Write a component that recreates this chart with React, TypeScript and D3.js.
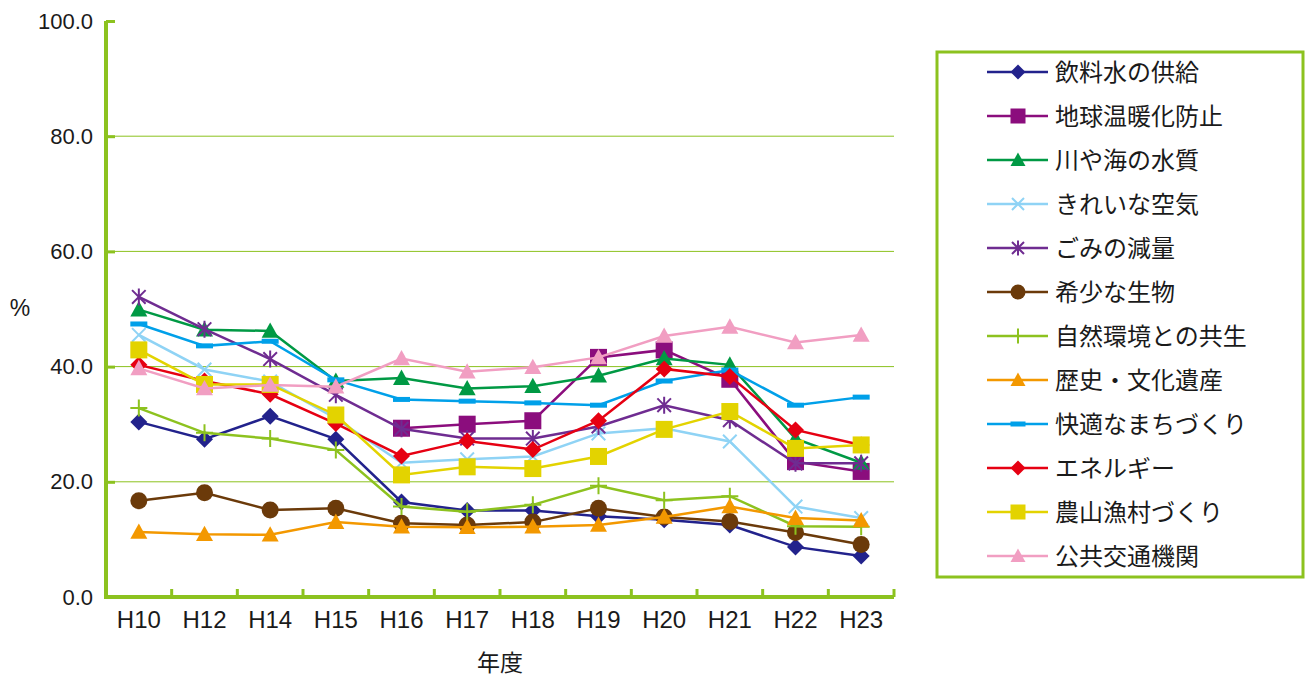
import React, { useEffect, useRef } from 'react';
import * as d3 from 'd3';

const years = ['H10', 'H12', 'H14', 'H15', 'H16', 'H17', 'H18', 'H19', 'H20', 'H21', 'H22', 'H23'];
const yTicks = [0, 20, 40, 60, 80, 100];

const seriesNames = ['飲料水の供給', '地球温暖化防止', '川や海の水質', 'きれいな空気', 'ごみの減量', '希少な生物',
  '自然環境との共生', '歴史・文化遺産', '快適なまちづくり', 'エネルギー', '農山漁村づくり', '公共交通機関'];

const drinkingWater = [30.4, 27.4, 31.4, 27.4, 16.5, 15.0, 15.0, 14.0, 13.4, 12.5, 8.7, 7.1];
const globalWarming = [null, null, null, null, 29.3, 30.0, 30.6, 41.6, 42.9, 37.8, 23.5, 21.8];
const waterQuality = [49.9, 46.4, 46.2, 37.5, 38.0, 36.2, 36.6, 38.4, 41.4, 40.3, 27.5, 23.3];
const cleanAir = [45.5, 39.5, 37.4, 31.0, 23.3, 23.9, 24.4, 28.4, 29.3, 27.0, 15.7, 13.7];
const wasteReduction = [52.1, 46.5, 41.3, 35.1, 29.2, 27.5, 27.5, 29.6, 33.3, 30.7, 23.2, 23.2];
const rareSpecies = [16.7, 18.1, 15.1, 15.4, 12.8, 12.5, 13.0, 15.4, 13.9, 13.1, 11.2, 9.1];
const natureCoexist = [32.8, 28.5, 27.5, 25.5, 15.7, 14.8, 16.0, 19.3, 16.8, 17.5, 12.3, 12.2];
const heritage = [11.3, 10.9, 10.8, 13.0, 12.2, 12.1, 12.2, 12.5, 13.9, 15.7, 13.7, 13.3];
const comfortableTown = [47.4, 43.6, 44.4, 37.7, 34.3, 34.0, 33.7, 33.3, 37.5, 39.4, 33.3, 34.7];
const energy = [40.3, 37.5, 35.2, 30.1, 24.5, 27.1, 25.6, 30.6, 39.6, 38.3, 29.0, 26.4];
const ruralVillage = [42.9, 36.9, 36.9, 31.6, 21.2, 22.6, 22.3, 24.4, 29.1, 32.2, 25.8, 26.4];
const publicTransport = [39.7, 36.2, 36.8, 36.5, 41.4, 39.1, 39.9, 41.6, 45.3, 46.9, 44.2, 45.5];

const allValues = [drinkingWater, globalWarming, waterQuality, cleanAir, wasteReduction, rareSpecies,
  natureCoexist, heritage, comfortableTown, energy, ruralVillage, publicTransport];
const colors = ['#22228c', '#8b0d7d', '#009944', '#8fd3f5', '#6f2c91', '#6b3a0a',
  '#8dc21f', '#f39800', '#00a0e9', '#e60012', '#e3d300', '#f19ec2'];
const markers = ['diamond', 'square', 'triangle', 'x', 'asterisk', 'circle',
  'plus', 'triangle', 'dash', 'diamond', 'square', 'triangle'];

const FONT = '"Noto Sans CJK JP", "Noto Sans", sans-serif';
const NUM_FONT = '"Liberation Sans", Arial, sans-serif';
const AXIS_GREEN = '#8cc21f';
const TEXT = '#1a1a1a';

function drawMarker(g: any, type: string, x: number, y: number, s: number, color: string) {
  const h = s / 2;
  if (type === 'diamond') {
    g.append('path').attr('d', `M${x},${y - h}L${x + h},${y}L${x},${y + h}L${x - h},${y}Z`).attr('fill', color);
  } else if (type === 'square') {
    g.append('rect').attr('x', x - h).attr('y', y - h).attr('width', s).attr('height', s).attr('fill', color);
  } else if (type === 'triangle') {
    g.append('path').attr('d', `M${x},${y - h}L${x + h},${y + h * 0.8}L${x - h},${y + h * 0.8}Z`).attr('fill', color);
  } else if (type === 'circle') {
    g.append('circle').attr('cx', x).attr('cy', y).attr('r', h).attr('fill', color);
  } else if (type === 'x') {
    const k = h * 0.8;
    g.append('path').attr('d', `M${x - k},${y - k}L${x + k},${y + k}M${x + k},${y - k}L${x - k},${y + k}`)
      .attr('stroke', color).attr('stroke-width', 2).attr('fill', 'none');
  } else if (type === 'asterisk') {
    const k = h * 0.8;
    g.append('path').attr('d', `M${x - k},${y - k}L${x + k},${y + k}M${x + k},${y - k}L${x - k},${y + k}M${x},${y - h}L${x},${y + h}`)
      .attr('stroke', color).attr('stroke-width', 2).attr('fill', 'none');
  } else if (type === 'plus') {
    g.append('path').attr('d', `M${x - h},${y}L${x + h},${y}M${x},${y - h}L${x},${y + h}`)
      .attr('stroke', color).attr('stroke-width', 2).attr('fill', 'none');
  } else if (type === 'dash') {
    g.append('rect').attr('x', x - h).attr('y', y - 2.5).attr('width', s).attr('height', 5).attr('fill', color);
  }
}

export default function App() {
  const svgRef = useRef<SVGSVGElement>(null);

  useEffect(() => {
    const svg = d3.select(svgRef.current);
    svg.selectAll('*').remove();

    const left = 106, right = 894, top = 21, bottom = 597;

    const x = d3.scaleBand().domain(years).range([left, right]);
    const y = d3.scaleLinear().domain([0, 100]).range([bottom, top]);
    const cx = (d: string) => (x(d) as number) + x.bandwidth() / 2;

    // グリッド線
    svg.append('g').selectAll('line')
      .data(yTicks.filter(t => t > 0 && t < 100))
      .enter().append('line')
      .attr('x1', left).attr('x2', right)
      .attr('y1', d => y(d)).attr('y2', d => y(d))
      .attr('stroke', AXIS_GREEN).attr('stroke-width', 1);

    // Y 軸
    const yAxis = svg.append('g').attr('transform', `translate(${left},0)`)
      .call(d3.axisRight(y).tickValues(yTicks).tickSize(9).tickFormat(d3.format('.1f')));
    yAxis.select('.domain').remove();
    yAxis.selectAll('.tick line').attr('stroke', AXIS_GREEN).attr('stroke-width', 3);
    yAxis.selectAll('.tick text').attr('x', -13).attr('text-anchor', 'end')
      .attr('font-family', NUM_FONT).attr('font-size', 22).attr('fill', TEXT);

    // X 軸
    const xAxis = svg.append('g').attr('transform', `translate(0,${bottom})`)
      .call(d3.axisBottom(x).tickSize(0));
    xAxis.select('.domain').remove();
    xAxis.selectAll('.tick text').attr('y', 31).attr('dy', 0)
      .attr('font-family', NUM_FONT).attr('font-size', 24).attr('fill', TEXT);

    // X 軸の目盛り (カテゴリ境界)
    svg.append('g').selectAll('line')
      .data(years)
      .enter().append('line')
      .attr('x1', (d, i) => left + x.bandwidth() * (i + 1))
      .attr('x2', (d, i) => left + x.bandwidth() * (i + 1))
      .attr('y1', bottom).attr('y2', bottom - 8)
      .attr('stroke', AXIS_GREEN).attr('stroke-width', 3);

    // 軸線
    svg.append('path')
      .attr('d', `M${left},${top}V${bottom}H${right}`)
      .attr('fill', 'none').attr('stroke', AXIS_GREEN).attr('stroke-width', 4);

    // 系列
    const line = d3.line<number | null>()
      .defined(d => d !== null)
      .x((d, i) => cx(years[i]))
      .y(d => y(d as number));

    allValues.forEach((vals, si) => {
      const g = svg.append('g');
      g.append('path').datum(vals).attr('d', line)
        .attr('fill', 'none').attr('stroke', colors[si]).attr('stroke-width', 2.5);
      vals.forEach((v, i) => {
        if (v === null) return;
        drawMarker(g, markers[si], cx(years[i]), y(v), 17, colors[si]);
      });
    });

    // 軸タイトル
    svg.append('text').attr('x', 20).attr('y', 308).attr('dy', '0.35em').attr('text-anchor', 'middle')
      .attr('font-family', NUM_FONT).attr('font-size', 23).attr('fill', TEXT).text('%');
    svg.append('text').attr('x', 500).attr('y', 663).attr('dy', '0.35em').attr('text-anchor', 'middle')
      .attr('font-family', FONT).attr('font-size', 23).attr('fill', TEXT).text('年度');

    // 凡例
    const legend = svg.append('g');
    legend.append('rect').attr('x', 937).attr('y', 52).attr('width', 366).attr('height', 525)
      .attr('fill', 'white').attr('stroke', AXIS_GREEN).attr('stroke-width', 3);
    seriesNames.forEach((name, i) => {
      const ly = 72 + i * 44;
      legend.append('line').attr('x1', 987).attr('x2', 1048).attr('y1', ly).attr('y2', ly)
        .attr('stroke', colors[i]).attr('stroke-width', 2.5);
      drawMarker(legend, markers[i], 1018, ly, 15, colors[i]);
      legend.append('text').attr('x', 1055).attr('y', ly).attr('dy', '0.36em')
        .attr('font-family', FONT).attr('font-size', 24).attr('fill', TEXT).text(name);
    });
  }, []);

  return (
    <svg ref={svgRef} width={1311} height={679}
      style={{ position: 'absolute', left: 0, top: 0, background: 'white' }} />
  );
}
